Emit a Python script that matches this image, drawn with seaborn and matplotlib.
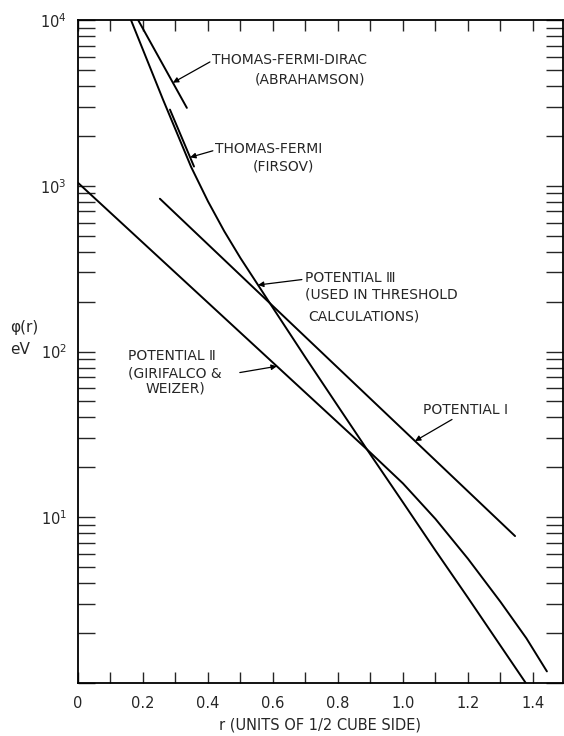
import numpy as np
import pandas as pd
import matplotlib
matplotlib.use("Agg")
import matplotlib.pyplot as plt
import seaborn as sns
from matplotlib.ticker import FixedLocator, FixedFormatter, NullFormatter

# Interatomic potentials phi(r) in eV, r in units of 1/2 cube side
pot1_r = [0.252, 1.345]
pot1_phi = [835, 7.7]

pot2_r = [0.0, 0.889, 1.0, 1.1, 1.2, 1.3, 1.38, 1.443]
pot2_phi = [1042, 25.7, 16.0, 9.77, 5.62, 3.09, 1.86, 1.175]

pot3_r = [0.163, 0.262, 0.348, 0.40, 0.45, 0.50, 0.55, 0.597,
          0.70, 0.80, 0.889, 1.0, 1.1, 1.2, 1.3, 1.378]
pot3_phi = [10000, 3296, 1300, 805, 532, 366, 259, 187,
            92, 46.8, 25.7, 12.3, 6.3, 3.27, 1.68, 1.0]

tfd_r = [0.185, 0.335]
tfd_phi = [10000, 2950]

tf_r = [0.283, 0.357]
tf_phi = [2880, 1306]

x_ticks = [0, 0.2, 0.4, 0.6, 0.8, 1.0, 1.2, 1.4]
x_labels = ["0", "0.2", "0.4", "0.6", "0.8", "1.0", "1.2", "1.4"]
y_ticks = [1, 10, 100, 1000, 10000]
y_labels = ["", "$10^1$", "$10^2$", "$10^3$", "$10^4$"]

sns.set_style("white")
plt.rcParams["font.family"] = ["DejaVu Sans"]
plt.rcParams["mathtext.fontset"] = "dejavusans"

fig = plt.figure(figsize=(5.64, 7.36), dpi=100)
ax = fig.add_axes([78 / 564, 1 - 683 / 736, (562.5 - 78) / 564, (683 - 20) / 736])

curves = {
    "I": (pot1_r, pot1_phi),
    "II": (pot2_r, pot2_phi),
    "III": (pot3_r, pot3_phi),
    "TFD": (tfd_r, tfd_phi),
    "TF": (tf_r, tf_phi),
}
for name, (r, phi) in curves.items():
    df = pd.DataFrame({"r": r, "phi": phi})
    sns.lineplot(data=df, x="r", y="phi", ax=ax, color="black", lw=1.4,
                 estimator=None, sort=False)

ax.set_yscale("log")
ax.set_xlim(0, 1.491)
ax.set_ylim(1, 10000)

ax.xaxis.set_major_locator(FixedLocator(x_ticks))
ax.xaxis.set_major_formatter(FixedFormatter(x_labels))
ax.xaxis.set_minor_locator(FixedLocator(np.arange(0.1, 1.5, 0.2)))
ax.yaxis.set_major_locator(FixedLocator(y_ticks))
ax.yaxis.set_major_formatter(FixedFormatter(y_labels))
minor_y = [m * 10 ** d for d in range(0, 4) for m in range(2, 10)]
ax.yaxis.set_minor_locator(FixedLocator(minor_y))
ax.yaxis.set_minor_formatter(NullFormatter())

ax.tick_params(axis="x", which="both", direction="in", length=8, width=1.0,
               top=True, bottom=True, labelsize=10.5, pad=9)
ax.tick_params(axis="y", which="both", direction="in", length=12, width=1.0,
               left=True, right=True, labelsize=10.5, pad=8)
for s in ax.spines.values():
    s.set_linewidth(1.3)
    s.set_color("black")

ax.set_xlabel("r (UNITS OF 1/2 CUBE SIDE)", fontsize=10.5, labelpad=5)
ax.set_ylabel("")
fig.text(10 / 564, 1 - 327 / 736, "φ(r)", fontsize=11, va="center", ha="left")
fig.text(10 / 564, 1 - 349 / 736, "eV", fontsize=11, va="center", ha="left")


def on_curve(r, rs, phis):
    return 10 ** np.interp(r, rs, np.log10(phis))


arrow_kw = dict(arrowstyle="-|>", lw=0.9, color="black", mutation_scale=8,
                shrinkA=0, shrinkB=0)
fs = 10

# Thomas-Fermi-Dirac
ax.text(0.412, 10 ** 3.759, "THOMAS-FERMI-DIRAC", fontsize=fs, va="center")
ax.text(0.545, 10 ** 3.639, "(ABRAHAMSON)", fontsize=fs, va="center")
ax.annotate("", xy=(0.292, on_curve(0.292, tfd_r, tfd_phi)),
            xytext=(0.406, 10 ** 3.747), arrowprops=arrow_kw)

# Thomas-Fermi
ax.text(0.4215, 10 ** 3.223, "THOMAS-FERMI", fontsize=fs, va="center")
ax.text(0.538, 10 ** 3.114, "(FIRSOV)", fontsize=fs, va="center")
ax.annotate("", xy=(0.345, on_curve(0.345, tf_r, tf_phi)),
            xytext=(0.415, 10 ** 3.211), arrowprops=arrow_kw)

# Potential III
ax.text(0.698, 10 ** 2.446, "POTENTIAL Ⅲ", fontsize=fs, va="center")
ax.text(0.698, 10 ** 2.343, "(USED IN THRESHOLD", fontsize=fs, va="center")
ax.text(0.708, 10 ** 2.211, "CALCULATIONS)", fontsize=fs, va="center")
ax.annotate("", xy=(0.554, on_curve(0.554, pot3_r, pot3_phi)),
            xytext=(0.689, 10 ** 2.434), arrowprops=arrow_kw)

# Potential II
ax.text(0.154, 10 ** 1.970, "POTENTIAL Ⅱ", fontsize=fs, va="center")
ax.text(0.154, 10 ** 1.867, "(GIRIFALCO &", fontsize=fs, va="center")
ax.text(0.209, 10 ** 1.777, "WEIZER)", fontsize=fs, va="center")
ax.annotate("", xy=(0.612, on_curve(0.612, pot2_r, pot2_phi)),
            xytext=(0.498, 10 ** 1.873), arrowprops=arrow_kw)

# Potential I
ax.text(1.062, 10 ** 1.645, "POTENTIAL Ⅰ", fontsize=fs, va="center")
ax.annotate("", xy=(1.037, on_curve(1.037, pot1_r, pot1_phi)),
            xytext=(1.151, 10 ** 1.590), arrowprops=arrow_kw)

fig.savefig("out.png", dpi=100)
